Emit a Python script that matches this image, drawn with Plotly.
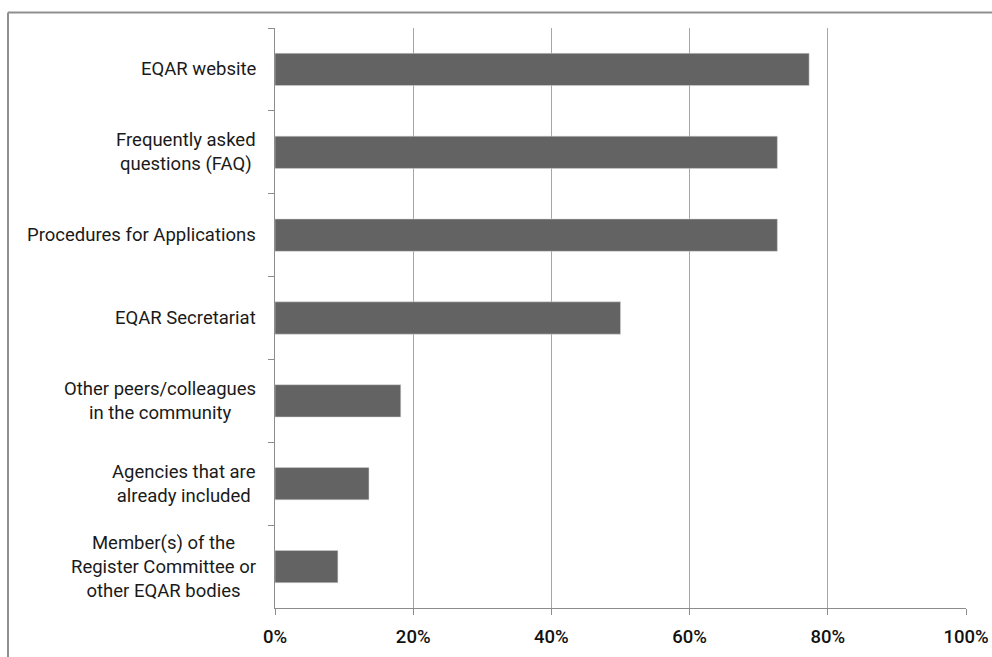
import plotly.graph_objects as go

categories = [
    "EQAR website",
    "Frequently asked<br>questions (FAQ)",
    "Procedures for Applications",
    "EQAR Secretariat",
    "Other peers/colleagues<br>in the community",
    "Agencies that are<br>already included",
    "Member(s) of the<br>Register Committee or<br>other EQAR bodies",
]
values = [0.773, 0.727, 0.727, 0.50, 0.182, 0.136, 0.091]
x_ticks = [0, 0.2, 0.4, 0.6, 0.8, 1.0]
x_tick_labels = ["0%", "20%", "40%", "60%", "80%", "100%"]

W, H = 992, 657
ML, MR, MT, MB = 275, 26, 28, 49
pw = W - ML - MR
ph = H - MT - MB

fig = go.Figure()
fig.add_trace(go.Bar(
    x=values,
    y=categories,
    orientation="h",
    marker=dict(color="#636363", line=dict(color="#d9d9d9", width=0.5)),
    width=0.39,
    hoverinfo="x+y",
))

font_family = "Roboto, 'DejaVu Sans', sans-serif"

annotations = []
for c in categories:
    annotations.append(dict(
        x=0, xref="paper", y=c, yref="y",
        text=c, showarrow=False, xanchor="right", yanchor="middle",
        align="center", xshift=-17,
        font=dict(family=font_family, size=18.5, color="#1a1a1a"),
    ))

# chart border (clipped at right and bottom like the reference)
bx0 = (8 - ML) / pw
by1 = (ph + MT - 12.5) / ph
shapes = [
    dict(type="line", xref="paper", yref="paper", x0=bx0, x1=bx0, y0=-0.2, y1=by1,
         line=dict(color="#8f8f8f", width=2)),
    dict(type="line", xref="paper", yref="paper", x0=bx0, x1=1.2, y0=by1, y1=by1,
         line=dict(color="#8f8f8f", width=2)),
]

fig.update_layout(
    width=W, height=H,
    margin=dict(l=ML, r=MR, t=MT, b=MB, pad=0, autoexpand=False),
    paper_bgcolor="white", plot_bgcolor="white",
    showlegend=False,
    bargap=0.61,
    annotations=annotations,
    shapes=shapes,
    xaxis=dict(
        range=[0, 1], tickvals=x_ticks, ticktext=x_tick_labels,
        showgrid=True, gridcolor="#a6a6a6", gridwidth=1,
        showline=True, linecolor="#8c8c8c", linewidth=1,
        ticks="outside", ticklen=6, tickcolor="#8c8c8c",
        tickfont=dict(family=font_family, size=18.5, color="#111111", weight=500),
        ticklabelstandoff=6, automargin=False,
        zeroline=False, fixedrange=True,
    ),
    yaxis=dict(
        autorange="reversed", type="category",
        showticklabels=False, automargin=False,
        showline=True, linecolor="#8c8c8c", linewidth=1,
        ticks="outside", ticklen=6, tickcolor="#8c8c8c", tickson="boundaries",
        showgrid=False, zeroline=False, fixedrange=True,
    ),
)

fig.write_html("out.html")
